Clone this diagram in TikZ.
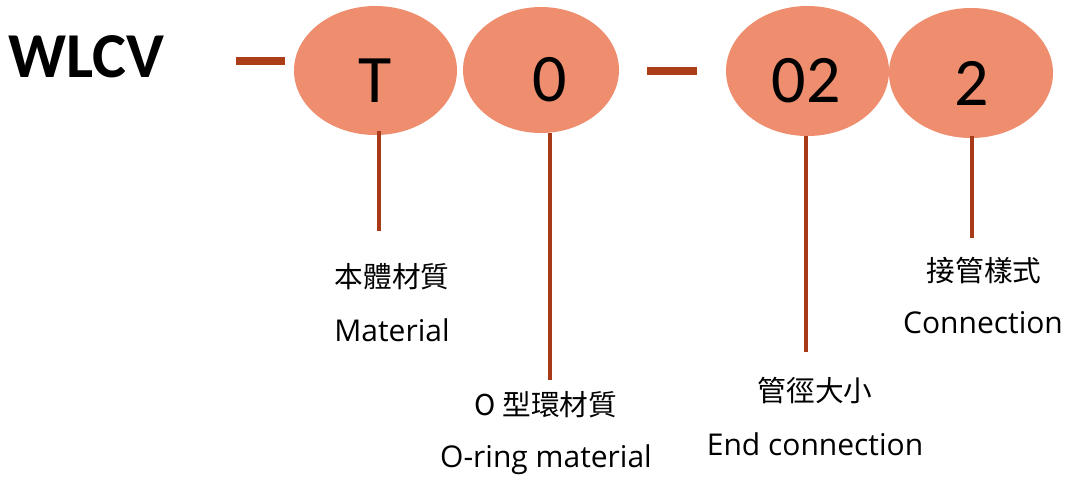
\documentclass[tikz,border=0pt]{standalone}
\usepackage{fontspec}
\usetikzlibrary{shapes.geometric}
\setmainfont{Open Sans}
\newfontfamily\cjkf{Noto Sans CJK TC}
\newfontfamily\calf{Carlito}
\definecolor{ovalfill}{RGB}{239,142,110}
\definecolor{linkred}{RGB}{168,58,26}
\tikzset{
  oval/.style={ellipse,fill=ovalfill,draw=none,inner sep=0pt},
  digit/.style={font=\calf\fontsize{51}{51}\selectfont,anchor=base,inner sep=0pt},
  link/.style={draw=linkred,line width=3pt},
  dashbar/.style={draw=linkred!95!orange,line width=6pt},
  zh/.style={font=\cjkf\fontsize{21.5}{21.5}\selectfont,anchor=base,inner sep=0pt},
  en/.style={font=\fontsize{22.5}{22.5}\selectfont,anchor=base,inner sep=0pt},
}
\begin{document}
\begin{tikzpicture}[x=0.75pt,y=-0.75pt]
\useasboundingbox (0,0) rectangle (1066,480);
% title
\node[font=\calf\bfseries\fontsize{48}{48}\selectfont,anchor=base west,inner sep=0pt] (wlcv) at (8,77) {WLCV};
% dashes
\coordinate (d1a) at (236,61); \coordinate (d1b) at (285,61);
\coordinate (d2a) at (647,70.5); \coordinate (d2b) at (697,70.5);
\draw[dashbar] (d1a) -- (d1b);
\draw[dashbar] (d2a) -- (d2b);
% ovals
\node[oval,minimum width=122.25pt,minimum height=96.75pt] (eT) at (375.5,70.5) {};
\node[oval,minimum width=117pt,minimum height=94.5pt] (e0) at (541,70) {};
\node[oval,minimum width=122.25pt,minimum height=97.5pt] (e02) at (807.5,71) {};
\node[oval,minimum width=123pt,minimum height=97.5pt] (e2) at (971,73) {};
\node[digit] (tT) at (375,102) {T};
\node[digit] (t0) at (550,101) {0};
\node[digit] (t02) at (806,102) {02};
\node[digit] (t2) at (972,105) {2};
% connectors
\coordinate (l1a) at (379,131); \coordinate (l1b) at (379,231);
\coordinate (l2a) at (550,133); \coordinate (l2b) at (550,380);
\coordinate (l3a) at (806,136); \coordinate (l3b) at (806,352);
\coordinate (l4a) at (972,136); \coordinate (l4b) at (972,238);
\draw[link] (l1a) -- (l1b);
\draw[link] (l2a) -- (l2b);
\draw[link] (l3a) -- (l3b);
\draw[link] (l4a) -- (l4b);
% labels
\node[zh] (z1) at (392,287) {本體材質};
\node[en] (n1) at (392,341) {Material};
\node[zh] (z2) at (546,415) {O 型環材質};
\node[en] (n2) at (546,467) {O-ring material};
\node[zh] (z3) at (815,401) {管徑大小};
\node[en] (n3) at (815,455) {End connection};
\node[zh] (z4) at (984,281) {接管樣式};
\node[en] (n4) at (983,333) {Connection};
\end{tikzpicture}
\end{document}
